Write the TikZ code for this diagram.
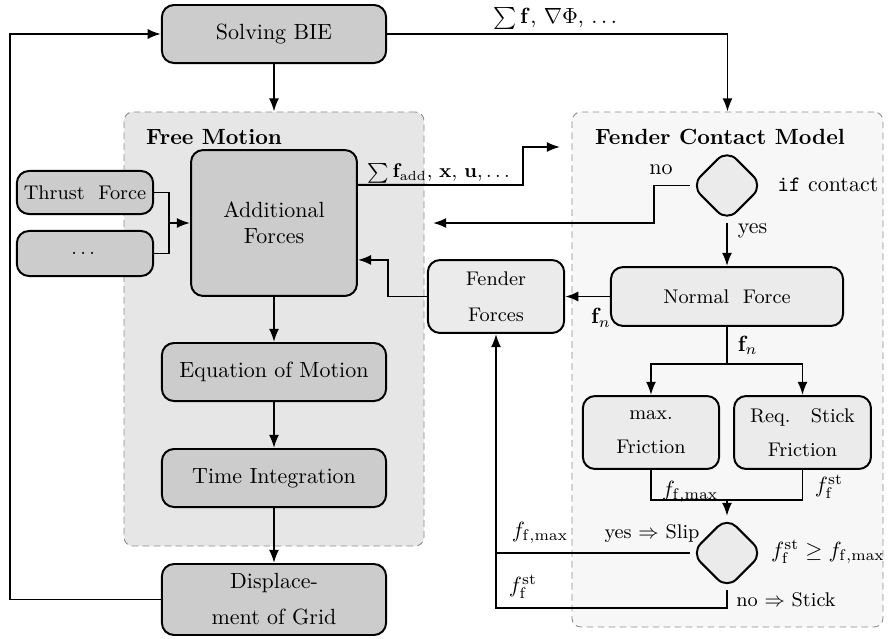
\documentclass[tikz,border=0pt]{standalone}
\usepackage{amsmath,amssymb}
\usepackage{tikz}
\usetikzlibrary{arrows.meta,shapes.geometric}
\definecolor{boxdark}{HTML}{CCCCCC}
\definecolor{boxlite}{HTML}{EBEBEB}
\definecolor{fmbg}{HTML}{E6E6E6}
\definecolor{fcbg}{HTML}{F7F7F7}
\definecolor{dashc}{HTML}{8C8C8C}
\tikzset{
  blk/.style={draw, line width=0.9pt, rounded corners=5.5pt, fill=boxdark, align=center, inner sep=0pt},
  lite/.style={draw, line width=0.9pt, rounded corners=5.5pt, fill=boxlite, align=center, font=\small, inner sep=0pt},
  cond/.style={draw, line width=0.9pt, diamond, rounded corners=6pt, fill=boxlite, minimum width=32.8pt, minimum height=32.8pt, inner sep=0pt},
  region/.style={draw=dashc, dash pattern=on 3pt off 2pt, rounded corners=4pt, inner sep=0pt},
  arr/.style={line width=0.9pt, -{Latex[length=6pt,width=4.6pt]}},
  ln/.style={line width=0.9pt},
  lbl/.style={inner sep=0.5pt}
}

\begin{document}
\begin{tikzpicture}[x=0.455pt, y=-0.455pt]
\useasboundingbox (0,0) rectangle (893,639);

% regions
\node[region, fill=fmbg, minimum width=136.5pt, minimum height=197.5pt] (fm) at (274,329) {};
\node[region, fill=fcbg, minimum width=141.5pt, minimum height=234.3pt] (fcm) at (727.5,369.5) {};
\node[font=\bfseries] (fmtitle) at (214,137) {Free Motion};
\node[font=\bfseries] (fcmtitle) at (720,137) {Fender Contact Model};

% free motion chain
\node[blk, minimum width=102pt, minimum height=26.4pt] (bie) at (274,34) {Solving BIE};
\node[blk, minimum width=75.5pt, minimum height=66.4pt] (addf) at (274,223) {Additional\\Forces};
\node[blk, font=\small, minimum width=62pt, minimum height=19.6pt] (thrust) at (85,192.5) {Thrust~~Force};
\node[blk, font=\small, minimum width=62pt, minimum height=20.5pt] (more) at (85,253.5) {$\dots$};
\node[blk, minimum width=102pt, minimum height=26.4pt] (eom) at (274,372) {Equation of Motion};
\node[blk, minimum width=102pt, minimum height=26.4pt] (tint) at (274,478) {Time Integration};
\node[blk, minimum width=102pt, minimum height=32.3pt] (disp) at (274,599.5) {Displace-\\[4.4pt]ment of Grid};

% contact model
\node[cond] (contact) at (727,185.5) {};
\node[lite, minimum width=105.6pt, minimum height=26.8pt] (normal) at (727,296.5) {Normal~~Force};
\node[lite, minimum width=62pt, minimum height=33.2pt] (fender) at (496,296.5) {Fender\\[5.4pt]Forces};
\node[lite, minimum width=62pt, minimum height=33.2pt] (maxfr) at (651,432.5) {max.\\[4.5pt]Friction};
\node[lite, minimum width=62.3pt, minimum height=33.2pt] (stickfr) at (802.5,432.5) {Req.~~~Stick\\[4.5pt]Friction};
\node[cond] (cmp) at (727,553) {};

% bend points
\coordinate (lp) at (10,599.5);
\coordinate (jn) at (169,223);
\coordinate (bend) at (523,185);
\coordinate (out) at (560,147);
\coordinate (nobend) at (654,185.5);
\coordinate (nc) at (433,223);
\coordinate (fbend) at (388,296.5);
\coordinate (sp) at (727,364);
\coordinate (mg) at (727,500);
\coordinate (fb) at (496,553);
\coordinate (stk) at (496,608);

% loop and BIE
\draw[arr] (disp.west) -- (lp) |- (bie.west);
\draw[arr] (bie.east) -| (fcm.north);
\draw[arr] (bie.south) -- (fm.north);
\node[lbl] (bielbl) at (557,18.5) {$\sum\mathbf{f}$, $\nabla\Phi$, $\dots$};

% free motion
\draw[ln] (thrust.east) -| (jn);
\draw[ln] (more.east) -| (jn);
\draw[arr] (jn) -- (addf.west);
\draw[arr] ([yshift=17.3pt]addf.east) -- node[above, lbl, font=\small]{$\sum\mathbf{f}_{\text{add}}$, $\mathbf{x}$, $\mathbf{u},\dots$} (bend) |- (out);
\draw[arr] (addf) -- (eom);
\draw[arr] (eom) -- (tint);
\draw[arr] (tint) -- (disp);

% contact check
\draw[arr] (contact.west) -- (nobend) |- (nc);
\node[lbl] (nolbl) at (661,170) {no};
\node[lbl] (iflbl) at (828,185) {\texttt{if} contact};
\draw[arr] (contact.south) -- node[pos=0.2, right, lbl, xshift=4pt]{yes} (normal.north);

% forces
\draw[arr] (normal.west) -- (fender.east);
\node[lbl] (fnlbl) at (601,318) {$\mathbf{f}_n$};
\draw[arr] (fender.west) -- (fbend) |- ([yshift=-16.8pt]addf.east);
\draw[ln] (normal.south) -- node[right, lbl, xshift=4pt]{$\mathbf{f}_n$} (sp);
\draw[arr] (sp) -| (maxfr.north);
\draw[arr] (sp) -| (stickfr.north);

% friction
\draw[ln] (maxfr.south) |- (mg);
\draw[ln] (stickfr.south) |- (mg);
\draw[arr] (mg) -- (cmp.north);
\node[lbl] (fmaxlbl) at (690,492) {$f_{\mathrm{f,max}}$};
\node[lbl] (fstlbl) at (829,487) {$f_{\mathrm{f}}^{\mathrm{st}}$};
\node[lbl] (cmplbl) at (828,552) {$f_{\mathrm{f}}^{\mathrm{st}} \geq f_{\mathrm{f,max}}$};

% slip / stick
\draw[arr] (cmp.west) -- (fb) -- (fender.south);
\draw[ln] (cmp.south) |- (stk) -- (fb);
\node[lbl, font=\small] (sliplbl) at (652,534) {yes $\Rightarrow$ Slip};
\node[lbl] (slipf) at (540,533) {$f_{\mathrm{f,max}}$};
\node[lbl, font=\small] (sticklbl) at (786,600) {no $\Rightarrow$ Stick};
\node[lbl] (stickf) at (523,587) {$f_{\mathrm{f}}^{\mathrm{st}}$};
\end{tikzpicture}
\end{document}
